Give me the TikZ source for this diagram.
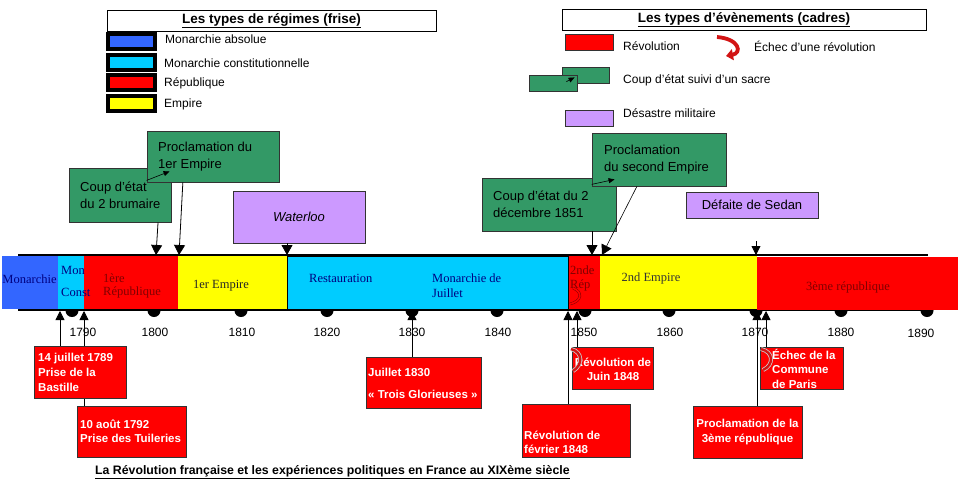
\documentclass[tikz,border=0pt]{standalone}
\usepackage{fontspec}
\setmainfont{Liberation Sans}
\newfontfamily\barfont{Liberation Serif}
\usetikzlibrary{arrows.meta,calc}
\definecolor{cblue}{RGB}{51,102,255}
\definecolor{ccyan}{RGB}{0,204,255}
\definecolor{cred}{RGB}{255,0,0}
\definecolor{cyel}{RGB}{255,255,0}
\definecolor{cgreen}{RGB}{51,153,102}
\definecolor{cpurple}{RGB}{204,153,255}
\definecolor{navytxt}{RGB}{0,0,128}
\definecolor{redtxt}{RGB}{128,0,0}
\definecolor{icon}{RGB}{210,20,20}
\begin{document}
\begin{tikzpicture}[x=1pt,y=-1pt,
  every node/.style={inner sep=0pt},
  lab/.style={anchor=west,font=\fontsize{12}{14}\selectfont},
  swatch/.style={draw=black,line width=4pt,minimum width=47,minimum height=15},
  titlebox/.style={draw=black,line width=1pt,fill=white,minimum height=21,font=\bfseries\fontsize{13.5}{15}\selectfont},
  legbox/.style={draw=black!80,line width=0.8pt,minimum width=48,minimum height=16},
  gbox/.style={draw=black!80,line width=0.8pt,fill=cgreen},
  pbox/.style={draw=black!80,line width=0.8pt,fill=cpurple,font=\fontsize{13}{17}\selectfont},
  gtxt/.style={anchor=west,align=left,font=\fontsize{13}{17}\selectfont},
  rbox/.style={draw=black!80,line width=0.8pt,fill=cred},
  rtxt/.style={text=white,align=left,font=\bfseries\fontsize{11.5}{15}\selectfont},
  bart/.style={font=\barfont\fontsize{12.5}{14}\selectfont},
  yr/.style={font=\fontsize{12}{14}\selectfont},
  arr/.style={-{Triangle[width=11pt,length=10pt]},line width=0.8pt},
  arrup/.style={-{Triangle[width=9pt,length=9pt]},line width=0.8pt},
  arrsmall/.style={-{Triangle[width=5pt,length=6pt]},line width=0.6pt},
]
\useasboundingbox (0,0) rectangle (961,490);
\fill[white] (0,0) rectangle (961,490);

% ---------- legend : regimes ----------
\node[titlebox,minimum width=329] (tleft) at (271.5,20.5) {\underline{Les types de régimes (frise)}};
\node[swatch,fill=cblue] (sw1) at (131.5,41.5) {};
\node[swatch,fill=ccyan] (sw2) at (131.5,62.5) {};
\node[swatch,fill=cred]  (sw3) at (131.5,82.5) {};
\node[swatch,fill=cyel]  (sw4) at (131.5,103.5) {};
\node[lab] (l1) at (165,39) {Monarchie absolue};
\node[lab] (l2) at (164,63) {Monarchie constitutionnelle};
\node[lab] (l3) at (164,83) {République};
\node[lab] (l4) at (164,104) {Empire};

% ---------- legend : events ----------
\node[titlebox,minimum width=364] (tright) at (744,19.5) {\underline{Les types d’évènements (cadres)}};
\node[legbox,fill=cred] (lrev) at (589,42) {};
\node[lab] (l5) at (623,46) {Révolution};
\draw[icon,line width=3.8pt,-{Triangle[width=11pt,length=7pt]}] (717,37) .. controls (740,39) and (742,53) .. (726,56);
\node[lab] (l6) at (754,46) {Échec d’une révolution};
\node[legbox,fill=cgreen,minimum width=47] (lga) at (585.5,75) {};
\node[legbox,fill=cgreen] (lgb) at (553,83) {};
\draw[arrsmall] ($(lgb.north east)+(-11,7)$) -- ($(lga.south west)+(13,-6)$);
\node[lab] (l7) at (623,80) {Coup d’état suivi d’un sacre};
\node[legbox,fill=cpurple] (lpur) at (589,118) {};
\node[lab] (l8) at (623,113) {Désastre militaire};

% ---------- timeline bar ----------
\draw[line width=2pt] (18,255) -- (928,255);
\draw[line width=2pt] (18,310) -- (928,310);
\foreach \x in {72,154,241,327,412,497,585,669,756,841,927}
  \fill (\x,310.5) circle (6.5);
\fill[cblue] (2,256) rectangle (58,309);
\fill[ccyan] (58,256) rectangle (84,309);
\fill[cred] (84,256) rectangle (178,309);
\fill[cyel] (178,256) rectangle (287,309);
\filldraw[fill=ccyan,draw=black,line width=1pt] (287,256) rectangle (568,309);
\fill[cred] (568.5,256) rectangle (600,309);
\fill[cyel] (600,256) rectangle (757,309);
\fill[cred] (757,257) rectangle (958,310);

\node[bart,text=navytxt] (tmon) at (29.5,279) {Monarchie};
\node[bart,text=navytxt,anchor=west] (tmc1) at (61,270) {Mon};
\node[bart,text=navytxt,anchor=west] (tmc2) at (61,292) {Const};
\node[bart,text=redtxt,anchor=west] (tr1a) at (103,278) {1ère};
\node[bart,text=redtxt,anchor=west] (tr1b) at (103,292) {République};
\node[bart,text=black!85] (te1) at (221,286) {1er Empire};
\node[bart,text=navytxt,anchor=west] (tres) at (309,278) {Restauration};
\node[bart,text=navytxt,anchor=west] (tmj1) at (432,278) {Monarchie de};
\node[bart,text=navytxt,anchor=west] (tmj2) at (432,293) {Juillet};
\node[bart,text=redtxt,anchor=west] (tr2a) at (570,270) {2nde};
\node[bart,text=redtxt,anchor=west] (tr2b) at (570,285) {Rép};
\draw[double=cred,double distance=1.6pt,line width=0.5pt,draw=redtxt] (573,288) .. controls (583,292) and (582,301) .. (570,304);
\node[bart,text=black!80] (te2) at (651,278) {2nd Empire};
\node[bart,text=redtxt] (tr3) at (848,287) {3ème république};

% year labels
\foreach \x/\y in {83/1790,155/1800,242/1810,327/1820,412/1830,498/1840,584/1850,670/1860,755/1870,841/1880}
  \node[yr] at (\x,332) {\y};
\node[yr] (y1890) at (921,333) {1890};

% attachment points on the bar
\coordinate (t1799) at (156,255);
\coordinate (t1804) at (179,255);
\coordinate (t1815) at (287,255);
\coordinate (t1851) at (592,255);
\coordinate (t1852) at (602,255);
\coordinate (t1870) at (756,255);
\coordinate (sedanfoot) at (756,241);
\coordinate (b1789) at (60,311);
\coordinate (b1792) at (84,311);
\coordinate (b1830) at (412,311);
\coordinate (b1848f) at (568,311);
\coordinate (b1848j) at (577,311);
\coordinate (b1870) at (757,311);
\coordinate (b1871) at (766,311);

% ---------- events above ----------
\node[gbox,minimum width=102,minimum height=54] (brum) at (120,195) {};
\node[gtxt] (brumt) at (80,195) {Coup d’état\\du 2 brumaire};
\node[gbox,minimum width=132,minimum height=51] (proc1) at (213,156.5) {};
\node[gtxt] (proc1t) at (158,156.5) {Proclamation du\\1er Empire};
\draw[arrsmall] ($(proc1.south west)+(0,-2)$) -- ++(23,-9);
\draw[arr] ($(brum.south west)!0.87!(brum.south east)$) -- (t1799);
\draw[arr] ($(proc1.south west)!0.273!(proc1.south east)$) -- (t1804);

\node[pbox,minimum width=132,minimum height=52] (water) at (299,217) {\itshape Waterloo};
\draw[arr] (water.south -| t1815) -- (t1815);

\node[gbox,minimum width=134,minimum height=53] (dec) at (549,204.5) {};
\node[gtxt] (dect) at (493,204.5) {Coup d’état du 2\\décembre 1851};
\node[gbox,minimum width=134,minimum height=53] (proc2) at (659,159.5) {};
\node[gtxt] (proc2t) at (604,159.5) {Proclamation\\du second Empire};
\draw[arrsmall] ($(proc2.south west)+(0,-2)$) -- ++(23,-5);
\draw[arr] (dec.south -| t1851) -- (t1851);
\draw[arr,line width=0.6pt] ($(proc2.south west)!0.336!(proc2.south east)$) -- (t1852);

\node[pbox,minimum width=132,minimum height=26] (sedan) at (752,205) {Défaite de Sedan};
\draw[arr,-{Triangle[width=9pt,length=9pt]}] (sedanfoot) -- (t1870);

% ---------- events below ----------
\node[rbox,minimum width=109,minimum height=51] (tuil) at (131.5,431.5) {};
\node[rtxt,anchor=west,font=\bfseries\fontsize{11.5}{13.5}\selectfont] (tuilt) at (80,431.5) {10 août 1792\\Prise des Tuileries};
\draw[arrup] (tuil.north -| b1792) -- (b1792);
\node[rbox,minimum width=92,minimum height=52] (bast) at (80,372) {};
\node[rtxt,anchor=west] (bastt) at (38,372) {14 juillet 1789\\Prise de la\\Bastille};
\draw[arrup] (bast.north -| b1789) -- (b1789);

\node[rbox,minimum width=115,minimum height=51] (j1830) at (423.5,382.5) {};
\node[rtxt,anchor=west,font=\bfseries\fontsize{11.5}{22}\selectfont] (j1830t) at (368,383) {Juillet 1830\\« Trois Glorieuses »};
\draw[arrup] (j1830.north -| b1830) -- (b1830);

\node[rbox,minimum width=108,minimum height=53] (fev) at (576,430.5) {};
\node[rtxt,anchor=west,font=\bfseries\fontsize{11.5}{14}\selectfont] (fevt) at (524,442) {Révolution de\\février 1848};
\draw[arrup] (fev.north -| b1848f) -- (b1848f);

\node[rbox,minimum width=81,minimum height=42] (juin) at (612.5,368) {};
\node[rtxt,align=center,font=\bfseries\fontsize{11.5}{14}\selectfont] (juint) at (613,369) {Révolution de\\Juin 1848};
\draw[double=icon,double distance=2.4pt,line width=0.8pt,draw=white!80!black] (571,349) .. controls (583,352) and (583,365) .. (573,371);
\draw[arrup] (juin.north -| b1848j) -- (b1848j);

\node[rbox,minimum width=109,minimum height=52] (rep3) at (747.5,432) {};
\node[rtxt,align=center] (rep3t) at (747.5,432.5) {Proclamation de la\\3ème république};
\draw[arrup] (rep3.north -| b1870) -- (b1870);

\node[rbox,minimum width=83,minimum height=42] (comm) at (801.5,368) {};
\node[rtxt,anchor=west,font=\bfseries\fontsize{11.5}{14.5}\selectfont] (commt) at (772,368.5) {Échec de la\\Commune\\de Paris};
\draw[double=icon,double distance=2.4pt,line width=0.8pt,draw=white!80!black] (761,349) .. controls (774,352) and (774,365) .. (763,370);
\draw[arrup] (comm.north -| b1871) -- (b1871);

% caption
\node[anchor=west,font=\bfseries\fontsize{12.3}{14}\selectfont] (cap) at (95,472) {\underline{La Révolution française et les expériences politiques en France au XIXème siècle}};
\end{tikzpicture}
\end{document}
